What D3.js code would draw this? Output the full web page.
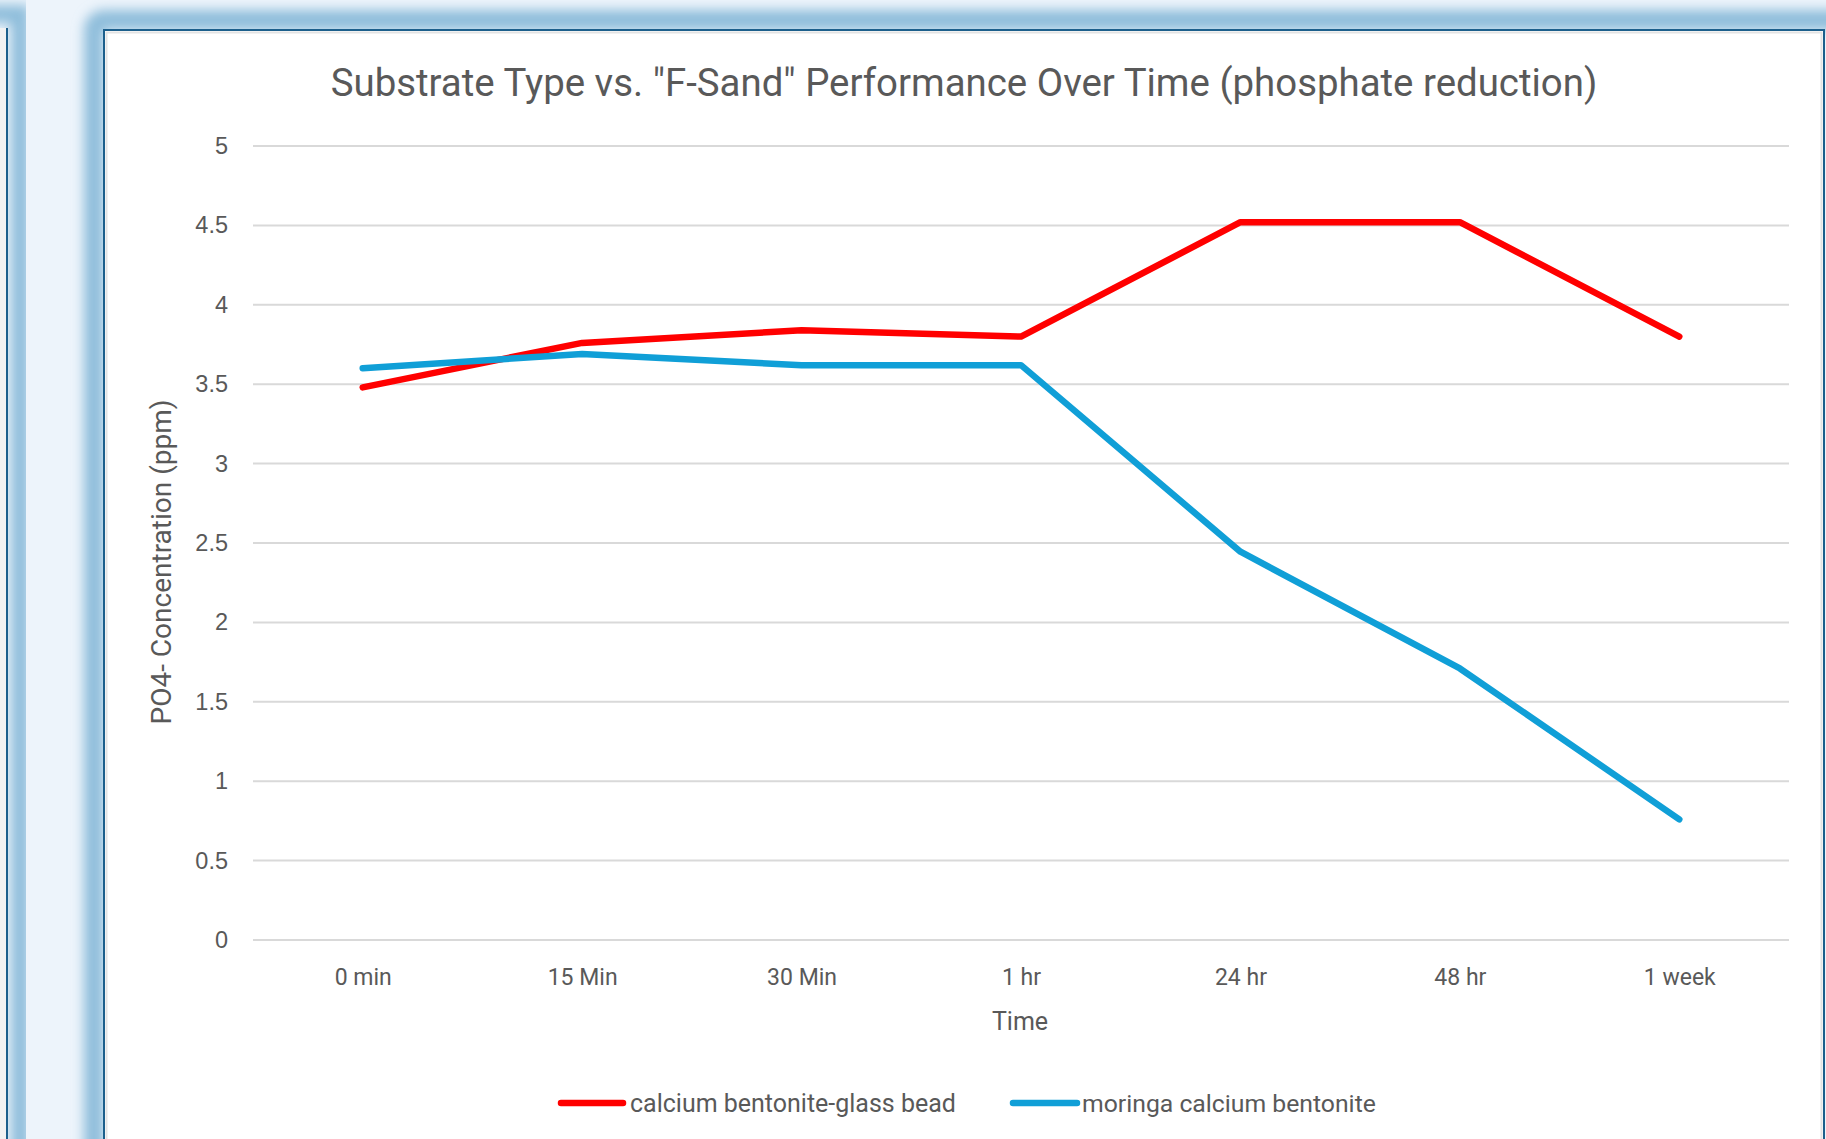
<!DOCTYPE html>
<html>
<head>
<meta charset="utf-8">
<script src="https://cdn.jsdelivr.net/npm/d3@7"></script>
<style>
  html, body { margin: 0; padding: 0; background: #edf4fb; overflow: hidden; }
  svg { display: block; }
  text { font-family: Roboto, "Open Sans", sans-serif; fill: #595959; }
</style>
</head>
<body>
<div id="result"></div>
<script>
// chart data
const timeLabels = ['0 min', '15 Min', '30 Min', '1 hr', '24 hr', '48 hr', '1 week'];
const glassBead = [3.48, 3.76, 3.84, 3.80, 4.52, 4.52, 3.80];
const moringa = [3.60, 3.69, 3.62, 3.62, 2.445, 1.71, 0.76];
const yTicks = [0, 0.5, 1, 1.5, 2, 2.5, 3, 3.5, 4, 4.5, 5];
const seriesNames = ['calcium bentonite-glass bead', 'moringa calcium bentonite'];
const seriesColors = ['#ff0000', '#109fd7'];

const width = 1826;
const height = 1139;

const svg = d3.select('#result')
    .append('svg')
    .attr('width', width)
    .attr('height', height);

const defs = svg.append('defs');
defs.append('filter')
    .attr('id', 'glow')
    .attr('x', '-10%').attr('y', '-10%')
    .attr('width', '120%').attr('height', '120%')
    .append('feGaussianBlur')
    .attr('stdDeviation', 6);

// window frames behind the chart
svg.append('rect')
    .attr('width', width).attr('height', height)
    .attr('fill', '#edf4fb');

// left panel edge
svg.append('rect')
    .attr('x', -40).attr('y', 14).attr('width', 60).attr('height', 1200)
    .attr('fill', 'none').attr('stroke', '#8fbedb').attr('stroke-width', 18)
    .attr('filter', 'url(#glow)');
svg.append('rect')
    .attr('x', 0).attr('y', 28).attr('width', 8).attr('height', 1200)
    .attr('fill', '#f2f2f2');
svg.append('line')
    .attr('x1', 7).attr('x2', 7).attr('y1', 28).attr('y2', 1139)
    .attr('stroke', '#1c5f8c').attr('stroke-width', 2);

// main panel
svg.append('rect')
    .attr('x', 94).attr('y', 20).attr('width', 1760).attr('height', 1200)
    .attr('rx', 10)
    .attr('fill', 'none').attr('stroke', '#8fbedb').attr('stroke-width', 20)
    .attr('filter', 'url(#glow)');
svg.append('rect')
    .attr('x', 104).attr('y', 30).attr('width', 1720).attr('height', 1200)
    .attr('fill', '#ffffff').attr('stroke', '#1c5f8c').attr('stroke-width', 2);
svg.append('rect')
    .attr('x', 106.5).attr('y', 32.5).attr('width', 1715).attr('height', 1200)
    .attr('fill', 'none').attr('stroke', '#e3e3e3').attr('stroke-width', 2);

// scales
const xScale = d3.scalePoint()
    .domain(timeLabels)
    .range([253, 1789])
    .padding(0.5);

const yScale = d3.scaleLinear()
    .domain([0, 5])
    .range([940, 146]);

const g = svg.append('g');

// gridlines
g.append('g')
    .selectAll('line')
    .data(yTicks)
    .enter()
    .append('line')
        .attr('x1', 253)
        .attr('x2', 1789)
        .attr('y1', d => yScale(d))
        .attr('y2', d => yScale(d))
        .attr('stroke', '#d9d9d9')
        .attr('stroke-width', 2);

// y tick labels
const yAxis = d3.axisLeft(yScale)
    .tickValues(yTicks)
    .tickSize(0)
    .tickPadding(0)
    .tickFormat(d => d);
const yAxisG = g.append('g')
    .attr('transform', 'translate(228,0)')
    .call(yAxis);
yAxisG.select('.domain').remove();
yAxisG.selectAll('text')
    .style('font-family', '"Liberation Sans", Arial, sans-serif')
    .style('font-size', '23.5px')
    .style('fill', '#595959');

// x tick labels
const xAxis = d3.axisBottom(xScale)
    .tickSize(0)
    .tickPadding(0);
const xAxisG = g.append('g')
    .attr('transform', 'translate(0,969)')
    .call(xAxis);
xAxisG.select('.domain').remove();
xAxisG.selectAll('text')
    .attr('dy', '0.71em')
    .style('font-family', 'Roboto, sans-serif')
    .style('font-size', '23px')
    .style('fill', '#595959');

// lines
const line = d3.line()
    .x((d, i) => xScale(timeLabels[i]))
    .y(d => yScale(d));

[glassBead, moringa].forEach((series, k) => {
    g.append('path')
        .datum(series)
        .attr('fill', 'none')
        .attr('stroke', seriesColors[k])
        .attr('stroke-width', 6.5)
        .attr('stroke-linejoin', 'round')
        .attr('stroke-linecap', 'round')
        .attr('d', line);
});

// fit a text element to a target width by scaling its font size
function fitWidth(sel, target) {
    const node = sel.node();
    const w = node.getComputedTextLength();
    const fs = parseFloat(sel.style('font-size'));
    sel.style('font-size', (fs * target / w) + 'px');
}

// title
const title = svg.append('text')
    .attr('x', 964)
    .attr('y', 83)
    .attr('dy', '0.35em')
    .attr('text-anchor', 'middle')
    .style('font-size', '33px')
    .text('Substrate Type vs. "F-Sand" Performance Over Time (phosphate reduction)');
fitWidth(title, 1267);

// axis titles
svg.append('text')
    .attr('x', 1020)
    .attr('y', 1021)
    .attr('dy', '0.35em')
    .attr('text-anchor', 'middle')
    .style('font-size', '25px')
    .text('Time');

const yTitle = svg.append('text')
    .attr('transform', 'translate(161,562) rotate(-90)')
    .attr('dy', '0.35em')
    .attr('text-anchor', 'middle')
    .style('font-size', '25px')
    .text('PO4- Concentration (ppm)');
fitWidth(yTitle, 325);

// legend
const legendX = [[561, 623, 630], [1013, 1077, 1082]];
const legendTargets = [326, 294];
seriesNames.forEach((name, k) => {
    const lg = svg.append('g');
    lg.append('line')
        .attr('x1', legendX[k][0])
        .attr('x2', legendX[k][1])
        .attr('y1', 1103)
        .attr('y2', 1103)
        .attr('stroke', seriesColors[k])
        .attr('stroke-width', 6.5)
        .attr('stroke-linecap', 'round');
    const t = lg.append('text')
        .attr('x', legendX[k][2])
        .attr('y', 1103)
        .attr('dy', '0.35em')
        .style('font-size', '22px')
        .text(name);
    fitWidth(t, legendTargets[k]);
});
</script>
</body>
</html>
